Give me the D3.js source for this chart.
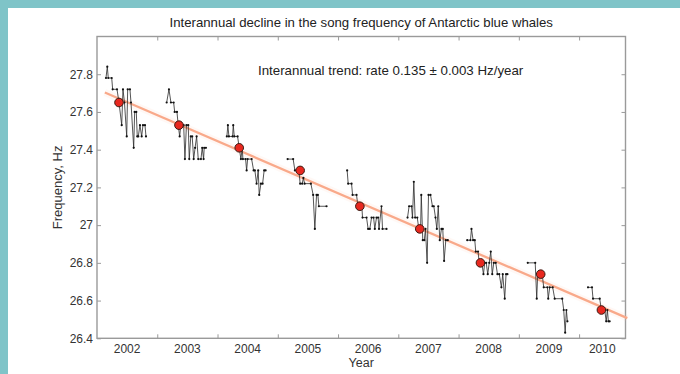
<!DOCTYPE html>
<html>
<head>
<meta charset="utf-8">
<script src="https://cdn.jsdelivr.net/npm/d3@7"></script>
<style>
  html, body { margin: 0; padding: 0; background: #fff; }
  body { width: 680px; height: 374px; overflow: hidden; }
  text { font-family: "Liberation Sans", Arial, sans-serif; }
</style>
</head>
<body>
<div id="chart"></div>
<script>
// song frequency samples per season, [decimal year, Hz]
let song2002 = [[2002.149, 27.78], [2002.171, 27.84], [2002.187, 27.78], [2002.244, 27.78], [2002.260, 27.72],
    [2002.332, 27.72], [2002.365, 27.65], [2002.410, 27.53], [2002.431, 27.72], [2002.456, 27.65], [2002.493, 27.47],
    [2002.509, 27.72], [2002.547, 27.72], [2002.564, 27.65], [2002.609, 27.41], [2002.625, 27.60], [2002.652, 27.60],
    [2002.668, 27.47], [2002.685, 27.47], [2002.713, 27.53], [2002.741, 27.47], [2002.763, 27.53], [2002.796, 27.53],
    [2002.813, 27.47]];
let song2003 = [[2003.156, 27.65], [2003.194, 27.72], [2003.227, 27.65], [2003.272, 27.65], [2003.289, 27.60],
    [2003.327, 27.60], [2003.348, 27.53], [2003.372, 27.47], [2003.390, 27.53], [2003.438, 27.53], [2003.459, 27.35],
    [2003.484, 27.53], [2003.514, 27.53], [2003.531, 27.35], [2003.556, 27.47], [2003.580, 27.47], [2003.604, 27.35],
    [2003.628, 27.41], [2003.653, 27.47], [2003.680, 27.35], [2003.725, 27.35], [2003.746, 27.41], [2003.769, 27.35],
    [2003.779, 27.41], [2003.808, 27.41]];
let song2004 = [[2004.155, 27.47], [2004.172, 27.53], [2004.189, 27.47], [2004.250, 27.47], [2004.261, 27.53],
    [2004.278, 27.47], [2004.333, 27.47], [2004.360, 27.41], [2004.388, 27.35], [2004.410, 27.41], [2004.421, 27.35],
    [2004.466, 27.35], [2004.483, 27.29], [2004.499, 27.35], [2004.566, 27.35], [2004.599, 27.29], [2004.620, 27.29],
    [2004.648, 27.22], [2004.675, 27.29], [2004.692, 27.16], [2004.720, 27.22], [2004.748, 27.22], [2004.774, 27.29],
    [2004.798, 27.29]];
let song2005 = [[2005.163, 27.35], [2005.255, 27.35], [2005.284, 27.29], [2005.350, 27.29], [2005.371, 27.22],
    [2005.405, 27.22], [2005.425, 27.25], [2005.445, 27.22], [2005.549, 27.22], [2005.587, 27.16], [2005.615, 26.98],
    [2005.643, 27.16], [2005.665, 27.16], [2005.682, 27.10], [2005.809, 27.10]];
let song2006 = [[2006.151, 27.29], [2006.168, 27.22], [2006.224, 27.22], [2006.241, 27.16], [2006.307, 27.16],
    [2006.329, 27.10], [2006.395, 27.10], [2006.406, 27.04], [2006.473, 27.04], [2006.499, 26.98], [2006.527, 26.98],
    [2006.556, 27.04], [2006.590, 27.04], [2006.610, 26.98], [2006.638, 27.04], [2006.665, 27.04], [2006.680, 26.98],
    [2006.721, 27.10], [2006.738, 26.98], [2006.804, 26.98]];
let song2007 = [[2007.153, 27.04], [2007.179, 27.10], [2007.219, 27.10], [2007.235, 27.04], [2007.257, 27.23],
    [2007.279, 27.04], [2007.315, 27.04], [2007.340, 26.98], [2007.370, 26.98], [2007.381, 27.16], [2007.406, 26.92],
    [2007.431, 26.92], [2007.451, 26.98], [2007.478, 26.80], [2007.501, 27.16], [2007.534, 27.16], [2007.567, 27.10],
    [2007.589, 27.10], [2007.617, 27.04], [2007.639, 26.98], [2007.663, 27.10], [2007.688, 26.92], [2007.716, 26.98],
    [2007.738, 26.98], [2007.760, 26.81], [2007.788, 26.92], [2007.821, 26.92]];
let song2008 = [[2008.144, 26.92], [2008.197, 26.92], [2008.214, 26.98], [2008.241, 26.92], [2008.269, 26.92],
    [2008.285, 26.86], [2008.323, 26.86], [2008.343, 26.80], [2008.385, 26.80], [2008.413, 26.74], [2008.434, 26.80],
    [2008.459, 26.80], [2008.484, 26.74], [2008.509, 26.80], [2008.534, 26.86], [2008.559, 26.74], [2008.584, 26.80],
    [2008.617, 26.80], [2008.645, 26.74], [2008.675, 26.74], [2008.711, 26.67], [2008.733, 26.74], [2008.766, 26.61],
    [2008.788, 26.74], [2008.811, 26.74]];
let song2009 = [[2009.148, 26.80], [2009.272, 26.80], [2009.297, 26.61], [2009.313, 26.74], [2009.388, 26.74],
    [2009.413, 26.67], [2009.474, 26.67], [2009.488, 26.61], [2009.512, 26.67], [2009.562, 26.67], [2009.595, 26.61],
    [2009.720, 26.61], [2009.745, 26.55], [2009.769, 26.43], [2009.789, 26.55], [2009.806, 26.49]];
let song2010 = [[2010.148, 26.67], [2010.214, 26.67], [2010.231, 26.61], [2010.342, 26.61], [2010.370, 26.55],
    [2010.425, 26.55], [2010.450, 26.49], [2010.469, 26.55], [2010.486, 26.49], [2010.507, 26.49]];

// annual means (red dots)
let meanYears = [2002.365, 2003.360, 2004.360, 2005.371, 2006.362, 2007.356, 2008.363, 2009.363, 2010.370];
let meanFreq = [27.65, 27.53, 27.41, 27.29, 27.10, 26.98, 26.80, 26.74, 26.55];

// linear trend end points
let trendYears = [2002.13, 2010.80];
let trendFreq = [27.703, 26.507];

let yearLabels = [2002, 2003, 2004, 2005, 2006, 2007, 2008, 2009, 2010];
let yTicks = [26.4, 26.6, 26.8, 27, 27.2, 27.4, 27.6, 27.8];

let seasons = [song2002, song2003, song2004, song2005, song2006, song2007, song2008, song2009, song2010];

let W = 680, H = 374;
let margin = { top: 36.5, right: 54.5, bottom: 35.7, left: 97 };
let width = W - margin.left - margin.right;
let height = H - margin.top - margin.bottom;

let root = d3.select('#chart')
    .append('svg')
    .attr('width', W)
    .attr('height', H);

// teal frame on top and left
root.append('rect').attr('x', 0).attr('y', 0).attr('width', W).attr('height', 8).attr('fill', '#7fc4c8');
root.append('rect').attr('x', 0).attr('y', 0).attr('width', 8).attr('height', H).attr('fill', '#7fc4c8');

let svg = root.append('g')
    .attr('transform', 'translate(' + margin.left + ', ' + margin.top + ')');

let xScale = d3.scaleLinear()
    .domain([2002.0, 2010.77])
    .range([0, width]);

let yScale = d3.scaleLinear()
    .domain([26.4, 28.0])
    .range([height, 0]);

let axisColor = '#9a9a9a';
let labelColor = '#333';

// y axes, ticks inward
let yAxis = d3.axisLeft(yScale)
    .tickValues(yTicks)
    .tickFormat(d3.format('~g'))
    .tickSizeInner(-4)
    .tickSizeOuter(0)
    .tickPadding(4);
let gy = svg.append('g').call(yAxis);

let gyr = svg.append('g')
    .attr('transform', `translate(${width}, 0)`)
    .call(d3.axisRight(yScale).tickValues(yTicks).tickFormat('').tickSizeInner(-4).tickSizeOuter(0));

// x axes: marks on year boundaries, labels centred in each year
let yearBounds = yearLabels.slice(1);
let gx = svg.append('g')
    .attr('transform', `translate(0, ${height})`)
    .call(d3.axisBottom(xScale).tickValues(yearBounds).tickFormat('').tickSizeInner(-4).tickSizeOuter(0));
let gxt = svg.append('g')
    .call(d3.axisTop(xScale).tickValues(yearBounds).tickFormat('').tickSizeInner(-4).tickSizeOuter(0));

let x0 = xScale.domain()[0], x1 = xScale.domain()[1];
svg.append('g')
    .selectAll('text')
    .data(yearLabels)
    .enter()
    .append('text')
    .attr('x', d => xScale((Math.max(d, x0) + Math.min(d + 1, x1)) / 2))
    .attr('y', height + 15)
    .attr('text-anchor', 'middle')
    .attr('font-size', 12)
    .attr('fill', labelColor)
    .text(d => d);

[gy, gyr, gx, gxt].forEach(g => {
    g.select('.domain').remove();
    g.selectAll('line').attr('stroke', axisColor);
    g.selectAll('text').attr('font-size', 12).attr('fill', labelColor)
        .attr('font-family', '"Liberation Sans", Arial, sans-serif');
});

// box
svg.append('rect')
    .attr('width', width)
    .attr('height', height)
    .attr('fill', 'none')
    .attr('stroke', axisColor)
    .attr('stroke-width', 1.4);

// trend line with soft halo
let trend = d3.zip(trendYears, trendFreq);
let line = d3.line().x(d => xScale(d[0])).y(d => yScale(d[1]));
svg.append('path').datum(trend).attr('d', line)
    .attr('stroke', '#fcc6b0').attr('stroke-opacity', 0.12).attr('stroke-width', 7).attr('fill', 'none');
svg.append('path').datum(trend).attr('d', line)
    .attr('stroke', '#f9a98a').attr('stroke-width', 2.3).attr('fill', 'none');

// song frequency series
seasons.forEach(s => {
    svg.append('path')
        .datum(s)
        .attr('d', line)
        .attr('fill', 'none')
        .attr('stroke', '#2a2a2a')
        .attr('stroke-width', 0.8);
    svg.append('g')
        .selectAll('circle')
        .data(s)
        .enter()
        .append('circle')
        .attr('cx', d => xScale(d[0]))
        .attr('cy', d => yScale(d[1]))
        .attr('r', 1.1)
        .attr('fill', '#111');
});

// annual means
svg.append('g')
    .selectAll('circle')
    .data(d3.zip(meanYears, meanFreq))
    .enter()
    .append('circle')
    .attr('cx', d => xScale(d[0]))
    .attr('cy', d => yScale(d[1]))
    .attr('r', 4.3)
    .attr('fill', '#e8281f')
    .attr('stroke', '#3b1a12')
    .attr('stroke-width', 1);

// texts
root.append('text')
    .attr('x', margin.left + width / 2)
    .attr('y', 27)
    .attr('text-anchor', 'middle')
    .attr('font-size', 13.2)
    .attr('fill', '#222')
    .text('Interannual decline in the song frequency of Antarctic blue whales');

svg.append('text')
    .attr('x', 161)
    .attr('y', 38.5)
    .attr('font-size', 13.3)
    .attr('fill', '#222')
    .text('Interannual trend: rate 0.135 \u00b1 0.003 Hz/year');

svg.append('text')
    .attr('x', width / 2)
    .attr('y', height + 29)
    .attr('text-anchor', 'middle')
    .attr('font-size', 12.5)
    .attr('fill', '#333')
    .text('Year');

svg.append('text')
    .attr('transform', `translate(-35, ${height / 2}) rotate(-90)`)
    .attr('text-anchor', 'middle')
    .attr('font-size', 13)
    .attr('fill', '#333')
    .text('Frequency, Hz');
</script>
</body>
</html>
